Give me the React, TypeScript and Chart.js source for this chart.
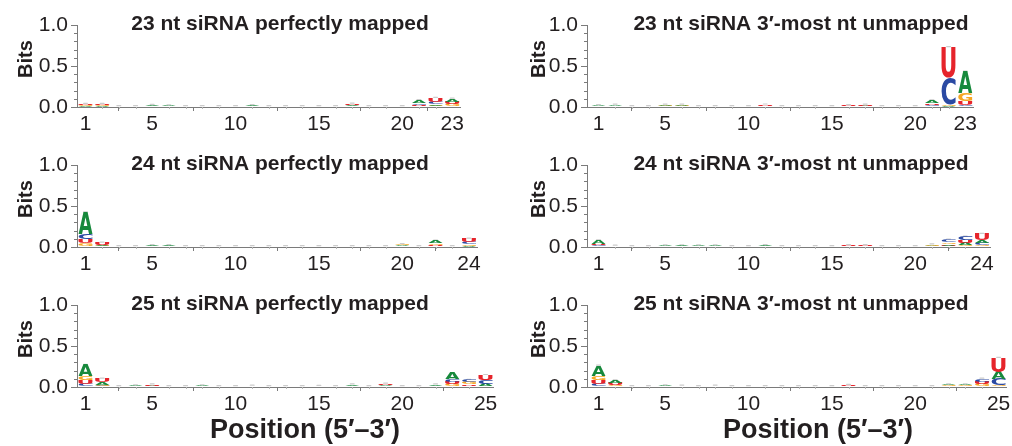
import React, { useEffect, useRef } from 'react';
import { Chart, registerables } from 'chart.js';

Chart.register(...registerables);
Chart.defaults.font.family = '"Liberation Sans", Arial, Helvetica, sans-serif';

// ---------------- data (bits per nucleotide, by position) ----------------
const P23_PERFECT_A = [0.008, 0.008, 0.002, 0.002, 0.01, 0.008, 0.002, 0.002, 0.002, 0.002, 0.01, 0.002, 0.002, 0.002, 0.002, 0.002, 0.01, 0.002, 0.002, 0.002, 0.035, 0.02, 0.035];
const P23_PERFECT_C = [0.005, 0.005, 0.002, 0.002, 0.004, 0.003, 0.002, 0.002, 0.002, 0.002, 0.004, 0.002, 0.002, 0.002, 0.002, 0.002, 0.005, 0.002, 0.002, 0.002, 0.02, 0.03, 0.01];
const P23_PERFECT_G = [0.012, 0.008, 0.002, 0.002, 0.006, 0.004, 0.002, 0.002, 0.002, 0.002, 0.004, 0.002, 0.002, 0.002, 0.002, 0.002, 0.005, 0.002, 0.002, 0.002, 0.012, 0.015, 0.025];
const P23_PERFECT_U = [0.012, 0.015, 0.002, 0.002, 0.004, 0.003, 0.002, 0.002, 0.002, 0.002, 0.004, 0.002, 0.002, 0.002, 0.002, 0.002, 0.02, 0.002, 0.002, 0.002, 0.015, 0.045, 0.03];

const P23_UNMAPPED_A = [0.008, 0.012, 0.002, 0.002, 0.012, 0.012, 0.002, 0.002, 0.002, 0.002, 0.006, 0.002, 0.002, 0.002, 0.002, 0.005, 0.008, 0.002, 0.002, 0.002, 0.03, 0.015, 0.26];
const P23_UNMAPPED_C = [0.004, 0.004, 0.002, 0.002, 0.004, 0.004, 0.002, 0.002, 0.002, 0.002, 0.004, 0.002, 0.002, 0.002, 0.002, 0.003, 0.004, 0.002, 0.002, 0.002, 0.02, 0.33, 0.025];
const P23_UNMAPPED_G = [0.006, 0.006, 0.002, 0.002, 0.008, 0.008, 0.002, 0.002, 0.002, 0.002, 0.004, 0.002, 0.002, 0.002, 0.002, 0.004, 0.006, 0.002, 0.002, 0.002, 0.01, 0.015, 0.1];
const P23_UNMAPPED_U = [0.005, 0.006, 0.002, 0.002, 0.004, 0.004, 0.002, 0.002, 0.002, 0.002, 0.015, 0.002, 0.002, 0.002, 0.002, 0.01, 0.01, 0.002, 0.002, 0.002, 0.02, 0.37, 0.045];

const P24_PERFECT_A = [0.265, 0.01, 0.002, 0.002, 0.01, 0.01, 0.002, 0.002, 0.002, 0.002, 0.003, 0.002, 0.002, 0.002, 0.002, 0.002, 0.002, 0.002, 0.002, 0.012, 0.002, 0.03, 0.002, 0.015];
const P24_PERFECT_C = [0.06, 0.008, 0.002, 0.002, 0.004, 0.004, 0.002, 0.002, 0.002, 0.002, 0.002, 0.002, 0.002, 0.002, 0.002, 0.002, 0.002, 0.002, 0.002, 0.005, 0.002, 0.01, 0.002, 0.03];
const P24_PERFECT_G = [0.045, 0.008, 0.002, 0.002, 0.004, 0.004, 0.002, 0.002, 0.002, 0.002, 0.002, 0.002, 0.002, 0.002, 0.002, 0.002, 0.002, 0.002, 0.002, 0.012, 0.002, 0.02, 0.002, 0.015];
const P24_PERFECT_U = [0.05, 0.025, 0.002, 0.002, 0.003, 0.003, 0.002, 0.002, 0.002, 0.002, 0.002, 0.002, 0.002, 0.002, 0.002, 0.002, 0.002, 0.002, 0.002, 0.006, 0.002, 0.015, 0.002, 0.04];

const P24_UNMAPPED_A = [0.04, 0.006, 0.002, 0.002, 0.008, 0.01, 0.008, 0.008, 0.002, 0.002, 0.01, 0.002, 0.002, 0.002, 0.002, 0.004, 0.004, 0.002, 0.002, 0.002, 0.008, 0.02, 0.025, 0.035];
const P24_UNMAPPED_C = [0.015, 0.002, 0.002, 0.002, 0.003, 0.003, 0.003, 0.003, 0.002, 0.002, 0.004, 0.002, 0.002, 0.002, 0.002, 0.003, 0.003, 0.002, 0.002, 0.002, 0.004, 0.035, 0.045, 0.03];
const P24_UNMAPPED_G = [0.01, 0.003, 0.002, 0.002, 0.004, 0.004, 0.004, 0.004, 0.002, 0.002, 0.004, 0.002, 0.002, 0.002, 0.002, 0.004, 0.004, 0.002, 0.002, 0.002, 0.015, 0.02, 0.02, 0.02];
const P24_UNMAPPED_U = [0.015, 0.003, 0.002, 0.002, 0.003, 0.003, 0.003, 0.003, 0.002, 0.002, 0.004, 0.002, 0.002, 0.002, 0.002, 0.01, 0.01, 0.002, 0.002, 0.002, 0.005, 0.015, 0.035, 0.075];

const P25_PERFECT_A = [0.14, 0.03, 0.002, 0.008, 0.008, 0.002, 0.002, 0.008, 0.002, 0.002, 0.005, 0.002, 0.004, 0.002, 0.004, 0.002, 0.015, 0.002, 0.008, 0.002, 0.002, 0.015, 0.07, 0.01, 0.03];
const P25_PERFECT_C = [0.04, 0.015, 0.002, 0.003, 0.004, 0.002, 0.002, 0.003, 0.002, 0.002, 0.003, 0.002, 0.002, 0.002, 0.002, 0.002, 0.004, 0.002, 0.005, 0.002, 0.002, 0.004, 0.035, 0.03, 0.04];
const P25_PERFECT_G = [0.05, 0.015, 0.002, 0.004, 0.006, 0.002, 0.002, 0.004, 0.002, 0.002, 0.003, 0.002, 0.002, 0.002, 0.003, 0.002, 0.006, 0.002, 0.006, 0.002, 0.002, 0.006, 0.03, 0.025, 0.01];
const P25_PERFECT_U = [0.04, 0.04, 0.002, 0.003, 0.012, 0.002, 0.002, 0.003, 0.002, 0.002, 0.003, 0.002, 0.002, 0.002, 0.002, 0.002, 0.005, 0.002, 0.02, 0.002, 0.002, 0.005, 0.03, 0.02, 0.065];

const P25_UNMAPPED_A = [0.13, 0.03, 0.002, 0.002, 0.008, 0.006, 0.002, 0.006, 0.002, 0.002, 0.002, 0.002, 0.002, 0.002, 0.002, 0.005, 0.002, 0.002, 0.002, 0.002, 0.002, 0.012, 0.012, 0.01, 0.09];
const P25_UNMAPPED_C = [0.04, 0.008, 0.002, 0.002, 0.003, 0.003, 0.002, 0.003, 0.002, 0.002, 0.002, 0.002, 0.002, 0.002, 0.002, 0.003, 0.002, 0.002, 0.002, 0.002, 0.002, 0.005, 0.006, 0.035, 0.075];
const P25_UNMAPPED_G = [0.05, 0.015, 0.002, 0.002, 0.004, 0.004, 0.002, 0.004, 0.002, 0.002, 0.002, 0.002, 0.002, 0.002, 0.002, 0.004, 0.002, 0.002, 0.002, 0.002, 0.002, 0.008, 0.008, 0.025, 0.02];
const P25_UNMAPPED_U = [0.04, 0.025, 0.002, 0.002, 0.003, 0.003, 0.002, 0.003, 0.002, 0.002, 0.002, 0.002, 0.002, 0.002, 0.002, 0.012, 0.002, 0.002, 0.002, 0.002, 0.002, 0.006, 0.006, 0.03, 0.17];

const ERROR_CAP = 0.015; // small grey error-bar cap on each stack
const Y_TICKS = [0, 0.5, 1.0];
const Y_MINOR_TICKS = [0.1, 0.2, 0.3, 0.4, 0.6, 0.7, 0.8, 0.9];
const X_LABEL_TICKS = [1, 5, 10, 15, 20];

const TITLES = [
  '23 nt siRNA perfectly mapped',
  '23 nt siRNA 3\u2032-most nt unmapped',
  '24 nt siRNA perfectly mapped',
  '24 nt siRNA 3\u2032-most nt unmapped',
  '25 nt siRNA perfectly mapped',
  '25 nt siRNA 3\u2032-most nt unmapped',
];
const X_AXIS_TITLE = 'Position (5\u2032\u20133\u2032)';
const Y_AXIS_TITLE = 'Bits';

const PANELS = [
  { title: TITLES[0], n: 23, A: P23_PERFECT_A, C: P23_PERFECT_C, G: P23_PERFECT_G, U: P23_PERFECT_U, col: 0, row: 0 },
  { title: TITLES[1], n: 23, A: P23_UNMAPPED_A, C: P23_UNMAPPED_C, G: P23_UNMAPPED_G, U: P23_UNMAPPED_U, col: 1, row: 0 },
  { title: TITLES[2], n: 24, A: P24_PERFECT_A, C: P24_PERFECT_C, G: P24_PERFECT_G, U: P24_PERFECT_U, col: 0, row: 1 },
  { title: TITLES[3], n: 24, A: P24_UNMAPPED_A, C: P24_UNMAPPED_C, G: P24_UNMAPPED_G, U: P24_UNMAPPED_U, col: 1, row: 1 },
  { title: TITLES[4], n: 25, A: P25_PERFECT_A, C: P25_PERFECT_C, G: P25_PERFECT_G, U: P25_PERFECT_U, col: 0, row: 2 },
  { title: TITLES[5], n: 25, A: P25_UNMAPPED_A, C: P25_UNMAPPED_C, G: P25_UNMAPPED_G, U: P25_UNMAPPED_U, col: 1, row: 2 },
];

// ---------------- styles / layout ----------------
const LETTERS = ['A', 'C', 'G', 'U'];
const COLORS: Record<string, string> = { A: '#17893c', C: '#2b4aa3', G: '#f5a623', U: '#e6242b' };
const TEXT = '#231f20';
const AXIS = '#7b7b7b';
const CAP_COLOR = '#cccccc';
const FONT = '"Liberation Sans", Arial, Helvetica, sans-serif';
const GLYPH_FONT = '"DejaVu Sans", "Liberation Sans", Arial, sans-serif';

const COL_LEFT = [0, 505];
const COL_W = [505, 507];
const AXIS_X = [77, 587];
const POS1_X = [85.5, 598.5];
const TITLE_CX = [280, 801];
const BITS_BASE_X = [31.5, 545];
const XTITLE_CX = [305, 818];
const ROW_TOP = [0, 140, 280];
const ROW_H = [140, 140, 166];
const PLOT_TOP = 25;
const PLOT_BOTTOM = 107;
const UNIT = 16.67;

function drawGlyph(ctx: CanvasRenderingContext2D, L: string, x: number, y: number, w: number, h: number, color: string) {
  ctx.save();
  ctx.font = `bold 200px ${GLYPH_FONT}`;
  const m = ctx.measureText(L);
  const gl = m.actualBoundingBoxLeft;
  const gw = m.actualBoundingBoxLeft + m.actualBoundingBoxRight;
  const ga = m.actualBoundingBoxAscent;
  const gh = m.actualBoundingBoxAscent + m.actualBoundingBoxDescent;
  ctx.translate(x, y);
  ctx.scale(w / gw, h / gh);
  ctx.fillStyle = color;
  ctx.textBaseline = 'alphabetic';
  ctx.textAlign = 'left';
  ctx.fillText(L, gl, ga);
  ctx.restore();
}

function Panel({ p }: { p: any }) {
  const ref = useRef<HTMLCanvasElement | null>(null);
  const canvasW = COL_W[p.col];
  const canvasH = ROW_H[p.row];
  const left = COL_LEFT[p.col];
  const top = ROW_TOP[p.row];

  useEffect(() => {
    if (!ref.current) return;
    const n = p.n;
    const positions = Array.from({ length: n }, (_, i) => i + 1);
    const order = positions.map((_, i) =>
      LETTERS.map((L) => ({ L, v: p[L][i] as number })).sort((a, b) => a.v - b.v)
    );
    const datasets: any[] = [];
    for (let k = 0; k < 4; k++) {
      datasets.push({
        label: 'layer' + k,
        data: positions.map((x, i) => ({ x, y: order[i][k].v })),
        letters: order.map((o) => o[k].L),
        backgroundColor: 'rgba(0,0,0,0)',
        borderWidth: 0,
        barPercentage: 0.84,
        categoryPercentage: 1,
        stack: 's',
      });
    }
    datasets.push({
      label: 'cap',
      data: positions.map((x) => ({ x, y: ERROR_CAP })),
      backgroundColor: CAP_COLOR,
      borderWidth: 0,
      borderRadius: 2,
      borderSkipped: false,
      barPercentage: 0.3,
      categoryPercentage: 1,
      stack: 's',
    });

    const xMin = 1 - (POS1_X[p.col] - AXIS_X[p.col]) / UNIT;
    const xMax = n + 0.5;
    const plotLeft = AXIS_X[p.col] - left;
    const plotRight = plotLeft + (xMax - xMin) * UNIT;
    const xTicks = [...X_LABEL_TICKS, n];

    const logoPlugin = {
      id: 'logo',
      afterDatasetsDraw(chart: any) {
        const ctx = chart.ctx;
        chart.data.datasets.forEach((ds: any, di: number) => {
          if (!ds.letters) return;
          const meta = chart.getDatasetMeta(di);
          meta.data.forEach((bar: any, i: number) => {
            const q = bar.getProps(['x', 'y', 'base', 'width'], true);
            const t = Math.min(q.y, q.base);
            const h = Math.abs(q.base - q.y);
            if (h <= 0) return;
            const L = ds.letters[i];
            drawGlyph(ctx, L, q.x - q.width / 2, t, q.width, h, COLORS[L]);
          });
        });
      },
    };

    const decorPlugin = {
      id: 'decor',
      afterDraw(chart: any) {
        const { ctx, chartArea, scales } = chart;
        ctx.save();
        ctx.strokeStyle = AXIS;
        ctx.lineWidth = 1;
        for (const v of Y_MINOR_TICKS) {
          const y = Math.round(scales.y.getPixelForValue(v)) + 0.5;
          ctx.beginPath();
          ctx.moveTo(chartArea.left - 3, y);
          ctx.lineTo(chartArea.left, y);
          ctx.stroke();
        }
        ctx.strokeStyle = '#b5b5b5';
        for (const x0 of positions) {
          if (xTicks.includes(x0)) continue;
          const x = Math.round(scales.x.getPixelForValue(x0)) + 0.5;
          ctx.beginPath();
          ctx.moveTo(x, chartArea.bottom);
          ctx.lineTo(x, chartArea.bottom + 2);
          ctx.stroke();
        }
        ctx.fillStyle = TEXT;
        ctx.font = `bold 21px ${FONT}`;
        ctx.textAlign = 'center';
        ctx.textBaseline = 'alphabetic';
        ctx.fillText(p.title, TITLE_CX[p.col] - left, 30);
        ctx.save();
        ctx.font = `bold 20px ${FONT}`;
        ctx.translate(BITS_BASE_X[p.col] - left, 59);
        ctx.rotate(-Math.PI / 2);
        ctx.fillText(Y_AXIS_TITLE, 0, 0);
        ctx.restore();
        if (p.row === 2) {
          ctx.font = `bold 27px ${FONT}`;
          ctx.fillText(X_AXIS_TITLE, XTITLE_CX[p.col] - left, 158);
        }
        ctx.restore();
      },
    };

    const chart = new Chart(ref.current, {
      type: 'bar',
      data: { datasets },
      options: {
        responsive: false,
        animation: false,
        events: [],
        layout: { padding: { left: 0, right: canvasW - plotRight, top: PLOT_TOP, bottom: 0 } },
        plugins: { legend: { display: false }, tooltip: { enabled: false }, title: { display: false } },
        scales: {
          x: {
            type: 'linear',
            min: xMin,
            max: xMax,
            offset: false,
            stacked: true,
            afterBuildTicks: (s: any) => {
              s.ticks = xTicks.map((v) => ({ value: v }));
            },
            afterFit: (s: any) => {
              s.height = canvasH - PLOT_BOTTOM;
            },
            ticks: {
              autoSkip: false,
              maxRotation: 0,
              padding: 1,
              color: TEXT,
              font: { size: 21 },
              callback: (v: any) => String(v),
            },
            grid: { drawOnChartArea: false, drawTicks: true, tickLength: 4, color: AXIS },
            border: { display: true, color: AXIS },
          },
          y: {
            type: 'linear',
            min: 0,
            max: 1,
            stacked: true,
            afterBuildTicks: (s: any) => {
              s.ticks = Y_TICKS.map((v) => ({ value: v }));
            },
            afterFit: (s: any) => {
              s.width = AXIS_X[p.col] - left;
            },
            ticks: {
              padding: 3,
              color: TEXT,
              font: { size: 21 },
              callback: (v: any) => Number(v).toFixed(1),
            },
            grid: { drawOnChartArea: false, drawTicks: true, tickLength: 6, color: AXIS },
            border: { display: true, color: AXIS },
          },
        },
      } as any,
      plugins: [logoPlugin, decorPlugin],
    } as any);
    return () => chart.destroy();
  }, [p]);

  return (
    <canvas
      ref={ref}
      width={canvasW}
      height={canvasH}
      style={{ position: 'absolute', left, top, width: canvasW, height: canvasH }}
    />
  );
}

export default function App() {
  return (
    <div style={{ position: 'absolute', left: 0, top: 0, width: 1012, height: 446, background: '#fff', overflow: 'hidden' }}>
      {PANELS.map((p, i) => (
        <Panel key={i} p={p} />
      ))}
    </div>
  );
}
